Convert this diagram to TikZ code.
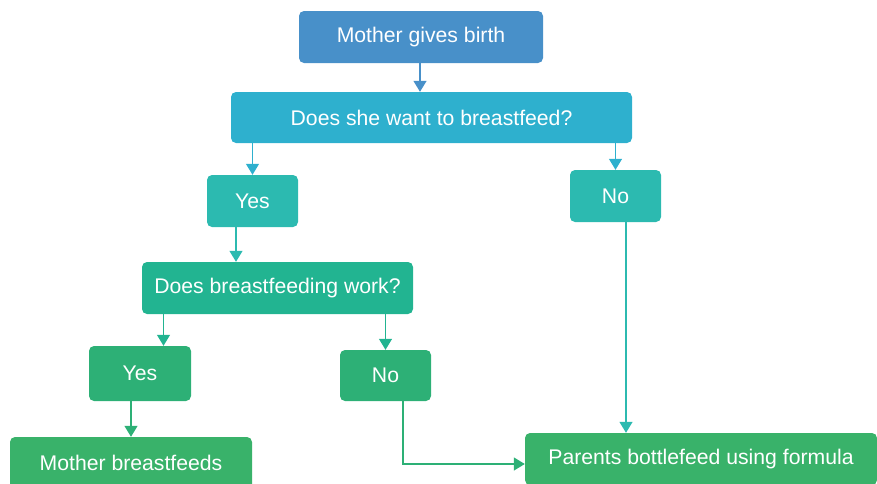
\documentclass[tikz,border=0pt]{standalone}
\usepackage{fontspec}
\setmainfont{Liberation Sans}
\usepackage{tikz}
\usetikzlibrary{arrows.meta}

\definecolor{cbirth}{RGB}{72,144,201}
\definecolor{cwant}{RGB}{46,176,206}
\definecolor{canswer}{RGB}{44,186,176}
\definecolor{cwork}{RGB}{34,180,145}
\definecolor{cworkans}{RGB}{45,176,118}
\definecolor{cend}{RGB}{57,178,106}

\begin{document}
\begin{tikzpicture}[x=1pt,y=-1pt,
							box/.style={rectangle,rounded corners=5pt,text=white,
								font=\fontsize{21.2}{25}\selectfont,inner sep=0pt},
							arr/.style={line width=1.3pt,-{Triangle[width=13pt,length=11pt]}}]
			\useasboundingbox (0,0) rectangle (877,483);
			\node[box,fill=cbirth,minimum width=244pt,minimum height=52pt] (birth) at (421,37) {Mother gives birth};
			\node[box,fill=cwant,minimum width=401pt,minimum height=51pt] (want) at (431.5,117.5) {Does she want to breastfeed?};
			\node[box,fill=canswer,minimum width=91pt,minimum height=52pt] (yesone) at (252.5,201) {Yes};
			\node[box,fill=canswer,minimum width=91pt,minimum height=52pt] (noone) at (615.5,196) {No};
			\node[box,fill=cwork,minimum width=271pt,minimum height=52pt] (work) at (277.5,288) {Does breastfeeding work?};
			\node[box,fill=cworkans,minimum width=102pt,minimum height=55pt] (yestwo) at (140,373.5) {Yes};
			\node[box,fill=cworkans,minimum width=91pt,minimum height=51pt] (notwo) at (385.5,375.5) {No};
			\node[box,fill=cend,minimum width=242pt,minimum height=52pt] (feeds) at (131,463) {Mother breastfeeds};
			\node[box,fill=cend,minimum width=352pt,minimum height=52pt] (formula) at (701,459) {Parents bottlefeed using formula};
			% connectors
			\draw[arr,cbirth] (birth.south -| 420,0) -- (want.north -| 420,0);
			\draw[arr,cwant] (want.south -| yesone.north) -- (yesone.north);
			\draw[arr,cwant] (want.south -| noone.north) -- (noone.north);
			\draw[arr,canswer] ([xshift=-16.5pt]yesone.south) -- ([xshift=-16.5pt]yesone.south |- work.north);
			\draw[arr,canswer] ([xshift=10.5pt]noone.south) -- ([xshift=10.5pt]noone.south |- formula.north);
			\draw[arr,cwork] ([xshift=23.5pt]yestwo.north |- work.south) -- ([xshift=23.5pt]yestwo.north);
			\draw[arr,cwork] (work.south -| notwo.north) -- (notwo.north);
			\draw[arr,cworkans] (yestwo.south -| feeds.north) -- (feeds.north);
			\draw[arr,cworkans] ([xshift=17.5pt]notwo.south) |- (formula.west |- 0,464);
		\end{tikzpicture}
\end{document}
